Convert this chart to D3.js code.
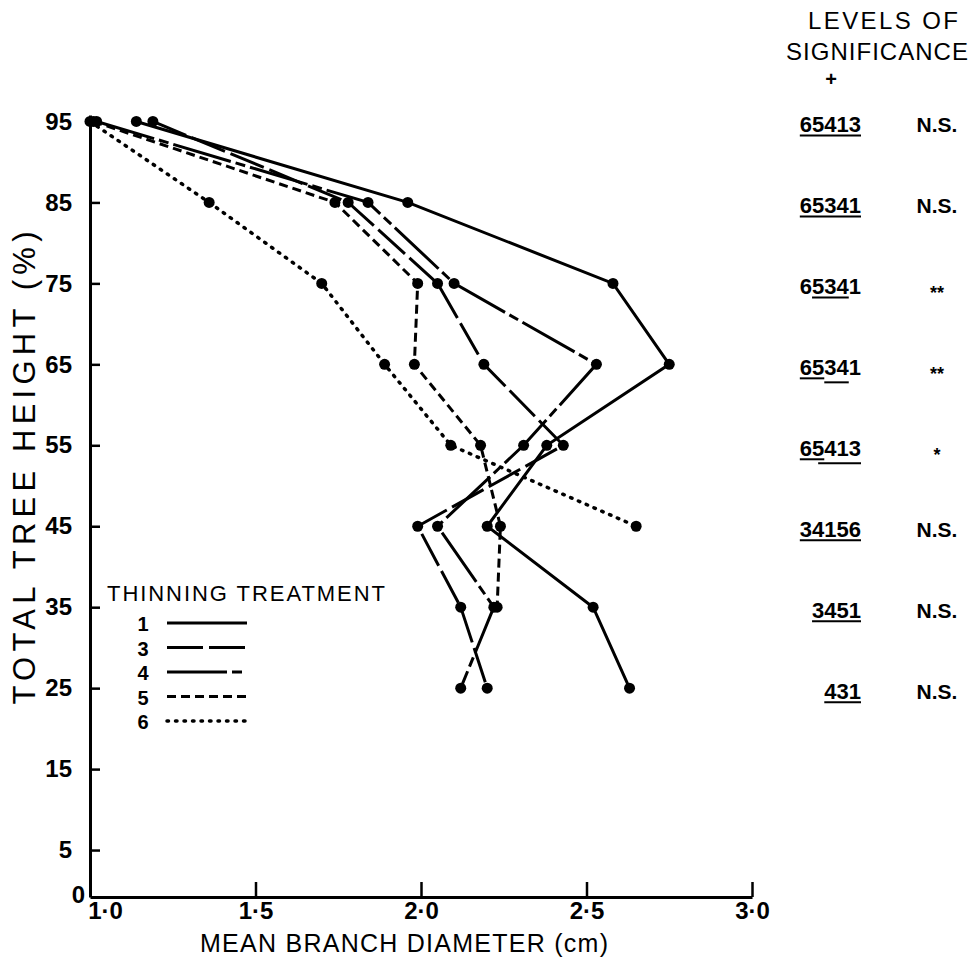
<!DOCTYPE html>
<html>
<head>
<meta charset="utf-8">
<script src="https://cdn.jsdelivr.net/npm/d3@7"></script>
<style>
  body { margin: 0; background: #fff; }
  svg { display: block; }
  text { font-family: "Liberation Sans", Arial, sans-serif; fill: #000; }
</style>
</head>
<body>
<svg width="971" height="963"></svg>
<script>
// heights (% of total tree height) where branches were measured
const heights = [95, 85, 75, 65, 55, 45, 35, 25];

// mean branch diameter (cm) per thinning treatment, from the top down
const treatment1 = [1.14, 1.96, 2.58, 2.75, 2.38, 2.20, 2.52, 2.63];
const treatment3 = [1.19, 1.78, 2.05, 2.19, 2.43, 1.99, 2.12, 2.20];
const treatment4 = [1.02, 1.84, 2.10, 2.53, 2.31, 2.05, 2.22, 2.12];
const treatment5 = [1.01, 1.74, 1.99, 1.98, 2.18, 2.24, 2.23];
const treatment6 = [1.00, 1.36, 1.70, 1.89, 2.09, 2.65];
const treatmentNames = ['1', '3', '4', '5', '6'];

const xTicks = [1.0, 1.5, 2.0, 2.5, 3.0];
const yTicks = [0, 5, 15, 25, 35, 45, 55, 65, 75, 85, 95];

// ranking of treatments and significance at each height
const rankOrders = ['65413', '65341', '65341', '65341', '65413', '34156', '3451', '431'];
const sigLevels = ['N.S.', 'N.S.', '**', '**', '*', 'N.S.', 'N.S.', 'N.S.'];
// underlined groups (character ranges) of the ranking
const rankGroups = [[[0, 5]], [[0, 5]], [[1, 4]], [[0, 2], [2, 4]], [[0, 2], [1.5, 5]], [[0, 5]], [[0, 4]], [[0, 3]]];

const dashes = { '1': null, '3': '36,6', '4': '60,5,10,5', '5': '9,5', '6': '1.5,7' };

const svg = d3.select('svg');

const xScale = d3.scaleLinear().domain([1, 3]).range([90, 752]);
const yScale = d3.scaleLinear().domain([-0.8, 95.8]).range([897, 115]);

// x axis
const xAxis = svg.append('g')
  .attr('transform', 'translate(0, 897)')
  .call(d3.axisBottom(xScale)
    .tickValues(xTicks)
    .tickSize(-15)
    .tickSizeOuter(0)
    .tickPadding(5)
    .tickFormat(d => d3.format('.1f')(d).replace('.', '·')));

// y axis
const yAxis = svg.append('g')
  .attr('transform', 'translate(90, 0)')
  .call(d3.axisLeft(yScale)
    .tickValues(yTicks)
    .tickSize(-10)
    .tickSizeOuter(0)
    .tickPadding(18));

[xAxis, yAxis].forEach(g => {
  g.select('.domain').attr('stroke-width', 3).attr('stroke', '#000');
  g.selectAll('.tick line').attr('stroke-width', 2.5).attr('stroke', '#000');
  g.selectAll('.tick text')
    .attr('font-size', '24px')
    .attr('font-weight', 'bold')
    .attr('fill', '#000');
});

xAxis.selectAll('.tick').filter(d => d === 1).select('text').attr('dx', 15);
const zeroTick = yAxis.selectAll('.tick').filter(d => d === 0);
zeroTick.select('line').remove();
zeroTick.select('text').attr('x', -5).attr('y', 4);

// series
const allValues = [treatment1, treatment3, treatment4, treatment5, treatment6];
const series = treatmentNames.map((name, i) => ({
  name,
  values: allValues[i].map((v, j) => ({ v, h: heights[j] }))
}));

const line = d3.line()
  .x(d => xScale(d.v))
  .y(d => yScale(d.h));

const chart = svg.append('g');

chart.selectAll('.series')
  .data(series)
  .enter()
  .append('path')
  .attr('class', 'series')
  .attr('d', s => line(s.values))
  .attr('fill', 'none')
  .attr('stroke', '#000')
  .attr('stroke-width', s => s.name === '6' ? 3.5 : 3)
  .attr('stroke-linecap', s => s.name === '6' ? 'round' : 'butt')
  .attr('stroke-dasharray', s => dashes[s.name]);

chart.selectAll('.dots')
  .data(series)
  .enter()
  .append('g')
  .selectAll('circle')
  .data(s => s.values)
  .enter()
  .append('circle')
  .attr('cx', d => xScale(d.v))
  .attr('cy', d => yScale(d.h))
  .attr('r', 5.5)
  .attr('fill', '#000');

// legend
const legend = svg.append('g');
legend.append('text')
  .attr('x', 107)
  .attr('y', 601)
  .attr('font-size', '22px')
  .attr('textLength', 278)
  .attr('lengthAdjust', 'spacing')
  .text('THINNING TREATMENT');

const rows = legend.selectAll('.row')
  .data(treatmentNames)
  .enter()
  .append('g')
  .attr('transform', (d, i) => `translate(0, ${623 + i * 24.5})`);

rows.append('text')
  .attr('x', 143)
  .attr('y', 8)
  .attr('text-anchor', 'middle')
  .attr('font-size', '20px')
  .attr('font-weight', 'bold')
  .text(d => d);

rows.append('line')
  .attr('x1', 167)
  .attr('x2', 247)
  .attr('stroke', '#000')
  .attr('stroke-width', d => d === '6' ? 3.5 : 3)
  .attr('stroke-linecap', d => d === '6' ? 'round' : 'butt')
  .attr('stroke-dasharray', d => dashes[d]);

// axis titles
svg.append('text')
  .attr('transform', 'translate(35, 468) rotate(-90)')
  .attr('text-anchor', 'middle')
  .attr('font-size', '31px')
  .attr('textLength', 473)
  .attr('lengthAdjust', 'spacing')
  .text('TOTAL TREE HEIGHT (%)');

svg.append('text')
  .attr('x', 404)
  .attr('y', 952)
  .attr('text-anchor', 'middle')
  .attr('font-size', '25px')
  .attr('textLength', 408)
  .attr('lengthAdjust', 'spacing')
  .text('MEAN BRANCH DIAMETER (cm)');

// significance column
svg.append('text')
  .attr('x', 883)
  .attr('y', 29)
  .attr('text-anchor', 'middle')
  .attr('font-size', '24px')
  .attr('textLength', 150)
  .attr('lengthAdjust', 'spacing')
  .text('LEVELS OF');

svg.append('text')
  .attr('x', 877)
  .attr('y', 60)
  .attr('text-anchor', 'middle')
  .attr('font-size', '24px')
  .attr('textLength', 182)
  .attr('lengthAdjust', 'spacing')
  .text('SIGNIFICANCE');

svg.append('text')
  .attr('x', 831)
  .attr('y', 86)
  .attr('text-anchor', 'middle')
  .attr('font-size', '20px')
  .attr('font-weight', 'bold')
  .text('+');

const sig = svg.selectAll('.sig')
  .data(heights.map((h, i) => ({ h, rank: rankOrders[i], level: sigLevels[i], groups: rankGroups[i] })))
  .enter()
  .append('g')
  .attr('class', 'sig')
  .attr('transform', d => `translate(0, ${yScale(d.h) + 3})`);

sig.append('text')
  .attr('class', 'rank')
  .attr('x', 861)
  .attr('dy', '0.35em')
  .attr('text-anchor', 'end')
  .attr('font-size', '22px')
  .attr('font-weight', 'bold')
  .text(d => d.rank);

sig.append('text')
  .attr('x', 937)
  .attr('dy', d => d.level.startsWith('*') ? '0.7em' : '0.35em')
  .attr('text-anchor', 'middle')
  .attr('font-size', d => d.level.startsWith('*') ? '18px' : '21px')
  .attr('font-weight', 'bold')
  .text(d => d.level);

sig.each(function (d) {
  const g = d3.select(this);
  const node = g.select('.rank').node();
  const charX = pos => {
    const i = Math.floor(pos);
    if (i >= d.rank.length) return node.getEndPositionOfChar(d.rank.length - 1).x;
    const a = node.getStartPositionOfChar(i).x;
    const b = node.getEndPositionOfChar(i).x;
    return a + (b - a) * (pos - i);
  };
  d.groups.forEach((grp, k) => {
    g.append('line')
      .attr('x1', charX(grp[0]))
      .attr('x2', charX(grp[1]))
      .attr('y1', 11 + k * 4)
      .attr('y2', 11 + k * 4)
      .attr('stroke', '#000')
      .attr('stroke-width', 2);
  });
});
</script>
</body>
</html>
